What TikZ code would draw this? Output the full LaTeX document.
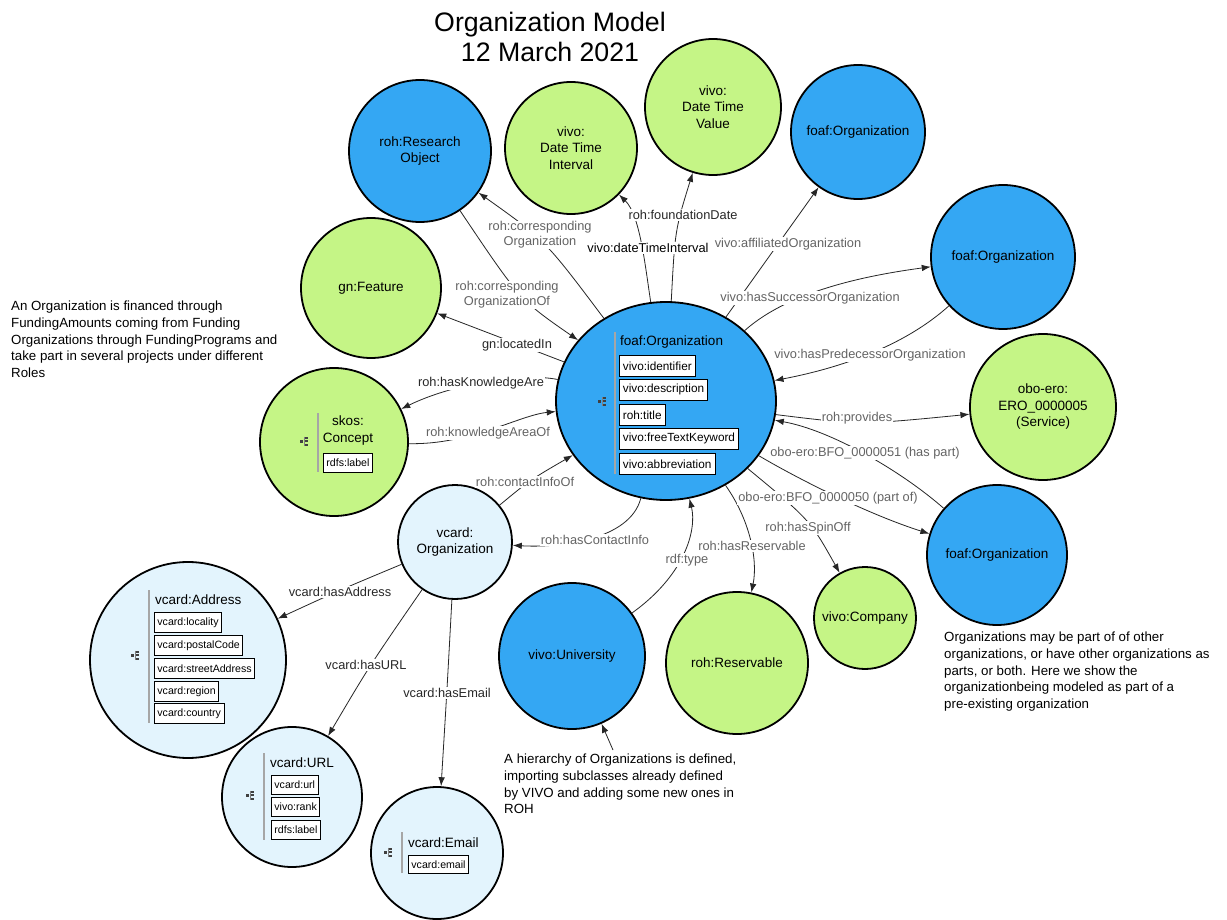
\documentclass[tikz,border=0pt]{standalone}
\usepackage{fontspec}
\setmainfont{Liberation Sans}
\usetikzlibrary{shapes.geometric,arrows.meta}
\definecolor{oblue}{RGB}{52,167,243}
\definecolor{ogreen}{RGB}{197,245,134}
\definecolor{olight}{RGB}{227,244,253}
\definecolor{lblgray}{RGB}{100,100,100}
\definecolor{lbldk}{RGB}{40,40,40}
\tikzset{
 cls/.style={circle, draw=black, line width=1.8pt, align=center, font=\fontsize{13.5}{16.5}\selectfont, inner sep=0pt},
 bluec/.style={cls, fill=oblue},
 greenc/.style={cls, fill=ogreen},
 lightc/.style={cls, fill=olight},
 arr/.style={draw=black!85, line width=0.8pt, -{Latex[length=9pt,width=6.5pt]}},
 lbl/.style={fill=white, inner sep=1pt, font=\fontsize{12.8}{15}\selectfont, text=lblgray, align=center},
 lbld/.style={lbl, text=lbldk},
 notetext/.style={align=left, font=\fontsize{13.3}{16.6}\selectfont, anchor=north west, inner sep=0pt},
 prop/.style={draw=black, line width=0.8pt, fill=white, anchor=north west, font=\fontsize{11.8}{13}\selectfont, inner xsep=3.5pt, inner ysep=0pt, minimum height=20pt},
 sprop/.style={prop, font=\fontsize{10.6}{12}\selectfont, inner xsep=3pt, minimum height=19pt},
 rtitle/.style={anchor=west, inner sep=0pt, font=\fontsize{13.5}{16}\selectfont},
 recsep/.style={draw=gray!70, line width=1.2pt},
 recicon/.pic={
  \fill[black!75] (-4.5,-1.5) rectangle (-1.5,1.5);
  \draw[black!50, line width=0.6pt] (0.3,-4.5) -- (0.3,4.5);
  \foreach \yy in {-3.5,0,3.5} \fill[black!75] (1.3,\yy-1) rectangle (4.3,\yy+1);
 }
}
\begin{document}
\begin{tikzpicture}[x=1pt,y=-1pt]
\useasboundingbox (0,0) rectangle (1227,920);
\fill[white] (0,0) rectangle (1227,920);

% title
\node[align=center, font=\fontsize{26.7}{30}\selectfont] (title) at (550,37) {Organization Model\\12 March 2021};

% class nodes
\node[ellipse, draw=black, line width=1.8pt, fill=oblue, minimum width=220pt, minimum height=198pt] (c) at (666,401) {};
\node[bluec, minimum size=142pt] (ro) at (420,151) {roh:Research\\Object};
\node[greenc, minimum size=132pt] (dti) at (571,148) {vivo:\\Date Time\\Interval};
\node[greenc, minimum size=136pt] (dtv) at (713,107) {vivo:\\Date Time\\Value};
\node[bluec, minimum size=134pt] (f1) at (858,132) {foaf:Organization};
\node[bluec, minimum size=144pt] (f2) at (1003,257) {foaf:Organization};
\node[greenc, minimum size=146pt] (svc) at (1043,407) {obo-ero:\\ERO\_0000005\\(Service)};
\node[bluec, minimum size=140pt] (f3) at (997,555) {foaf:Organization};
\node[greenc, minimum size=102pt] (co) at (865,618) {vivo:Company};
\node[greenc, minimum size=142pt] (res) at (737,663) {roh:Reservable};
\node[bluec, minimum size=146pt] (u) at (572,656) {vivo:University};
\node[lightc, minimum size=114pt] (vo) at (455,542) {vcard:\\Organization};
\node[greenc, minimum size=140pt] (gf) at (371,288) {gn:Feature};
\node[greenc, minimum size=148pt] (sk) at (334,442) {};
\node[lightc, minimum size=196pt] (ad) at (188,660) {};
\node[lightc, minimum size=140pt] (url) at (292,797) {};
\node[lightc, minimum size=132pt] (em) at (437,853) {};

% record: central foaf:Organization
\draw[recsep] (615,332) -- (615,474);
\pic at (602,401) {recicon};
\node[rtitle] (ct) at (620,342) {foaf:Organization};
\node[prop, minimum height=21pt] (p1) at (619,355) {vivo:identifier};
\node[prop, minimum height=21pt] (p2) at (619,379) {vivo:description};
\node[prop, minimum height=21pt] (p3) at (619,404) {roh:title};
\node[prop, minimum height=21pt] (p4) at (619,428) {vivo:freeTextKeyword};
\node[prop, minimum height=21pt] (p5) at (619,453) {vivo:abbreviation};

% record: skos:Concept
\draw[recsep] (318,413) -- (318,472);
\pic at (304,441) {recicon};
\node[align=center, inner sep=0pt, font=\fontsize{13.5}{17}\selectfont] (skt) at (348,431) {skos:\\Concept};
\node[sprop] (sk1) at (323,453) {rdfs:label};

% record: vcard:Address
\draw[recsep] (149,590) -- (149,723);
\pic at (135,655) {recicon};
\node[rtitle] (adt) at (155,600) {vcard:Address};
\node[sprop, minimum height=20pt] (ad1) at (154,612) {vcard:locality};
\node[sprop, minimum height=20pt] (ad2) at (154,635) {vcard:postalCode};
\node[sprop, minimum height=20pt] (ad3) at (154,658) {vcard:streetAddress};
\node[sprop, minimum height=20pt] (ad4) at (154,681) {vcard:region};
\node[sprop, minimum height=20pt] (ad5) at (154,703) {vcard:country};

% record: vcard:URL
\draw[recsep] (264,753) -- (264,840);
\pic at (250,795) {recicon};
\node[rtitle] (urlt) at (270,763) {vcard:URL};
\node[sprop] (url1) at (271,775) {vcard:url};
\node[sprop] (url2) at (271,797) {vivo:rank};
\node[sprop] (url3) at (271,820) {rdfs:label};

% record: vcard:Email
\draw[recsep] (402,832) -- (402,873);
\pic at (388,852) {recicon};
\node[rtitle] (emt) at (408,843) {vcard:Email};
\node[sprop, minimum height=18pt] (em1) at (408,855) {vcard:email};

% connectors
\draw[arr] (c) .. controls (545,240) .. (ro);
\draw[arr] (ro) .. controls (520,300) .. (c);
\draw[arr] (c) .. controls (645,265) and (640,215) .. (dti);
\draw[arr] (c) .. controls (675,230) .. (dtv);
\draw[arr] (c) -- (f1);
\draw[arr] (c) .. controls (790,290) and (870,275) .. (f2);
\draw[arr] (f2) .. controls (900,350) and (830,370) .. (c);
\draw[arr] (c) .. controls (860,425) .. (svc);
\draw[arr] (f3) .. controls (900,470) and (830,430) .. (c);
\draw[arr] (c) .. controls (800,480) and (870,515) .. (f3);
\draw[arr] (c) .. controls (810,520) .. (co);
\draw[arr] (c) .. controls (750,520) and (758,560) .. (res);
\draw[arr] (u) .. controls (685,575) and (697,530) .. (c);
\draw[arr] (c) .. controls (630,540) and (560,548) .. (vo);
\draw[arr] (vo) .. controls (530,480) .. (c);
\draw[arr] (sk) .. controls (470,445) and (520,415) .. (c);
\draw[arr] (c) .. controls (520,372) and (450,385) .. (sk);
\draw[arr] (c) .. controls (520,345) .. (gf);
\draw[arr] (vo) .. controls (340,590) .. (ad);
\draw[arr] (vo) .. controls (370,665) .. (url);
\draw[arr] (vo) .. controls (447,690) .. (em);
\coordinate (nt) at (613,750);
\draw[arr] (nt) -- (u);

% connector labels
\node[lbl] (l1) at (540,235) {roh:corresponding\\Organization};
\node[lbl] (l2) at (507,295) {roh:corresponding\\OrganizationOf};
\node[lbld, text=black] (l3) at (648,248) {vivo:dateTimeInterval};
\node[lbld] (l4) at (683,215) {roh:foundationDate};
\node[lbl] (l5) at (788,244) {vivo:affiliatedOrganization};
\node[lbl] (l6) at (810,298) {vivo:hasSuccessorOrganization};
\node[lbl] (l7) at (870,355) {vivo:hasPredecessorOrganization};
\node[lbl] (l8) at (857,418) {roh:provides};
\node[lbl] (l9) at (865,453) {obo-ero:BFO\_0000051 (has part)};
\node[lbl] (l10) at (828,498) {obo-ero:BFO\_0000050 (part of)};
\node[lbl] (l11) at (808,528) {roh:hasSpinOff};
\node[lbl] (l12) at (752,546) {roh:hasReservable};
\node[lbl] (l13) at (687,560) {rdf:type};
\node[lbl] (l14) at (595,540) {roh:hasContactInfo};
\node[lbl] (l15) at (525,482) {roh:contactInfoOf};
\node[lbl] (l16) at (488,433) {roh:knowledgeAreaOf};
\node[lbld] (l17) at (481,383) {roh:hasKnowledgeAre};
\node[lbld] (l18) at (517,345) {gn:locatedIn};
\node[lbld] (l19) at (340,592) {vcard:hasAddress};
\node[lbld] (l20) at (366,665) {vcard:hasURL};
\node[lbld] (l21) at (447,693) {vcard:hasEmail};

% notes
\node[notetext] (n1) at (11,301) {An Organization is financed through\\FundingAmounts coming from Funding\\Organizations through FundingPrograms and\\take part in several projects under different\\Roles};
\node[notetext] (n2) at (504,754) {A hierarchy of Organizations is defined,\\importing subclasses already defined\\by VIVO and adding some new ones in\\ROH};
\node[notetext] (n3) at (944,632) {Organizations may be part of of other\\organizations, or have other organizations as\\parts, or both. Here we show the\\organizationbeing modeled as part of a\\pre-existing organization};
\end{tikzpicture}
\end{document}
